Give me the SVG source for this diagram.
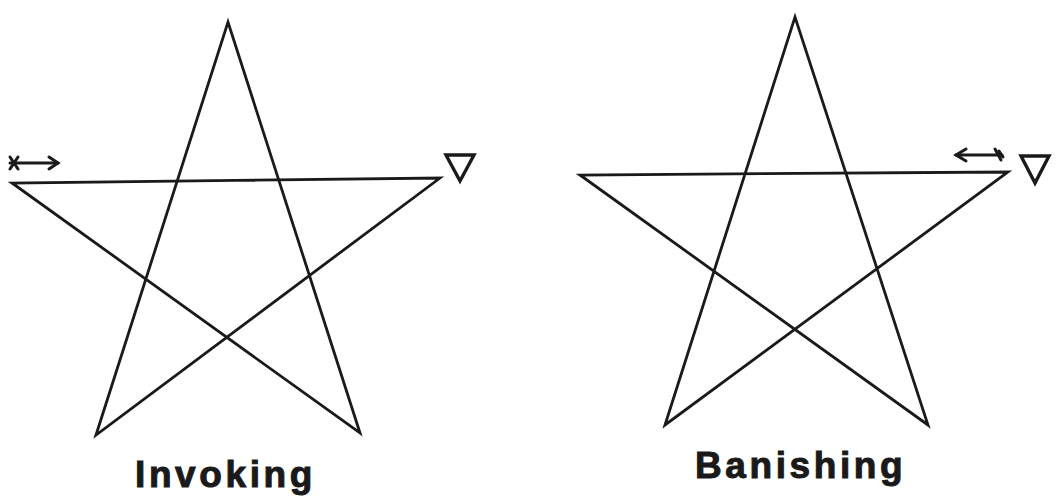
<svg xmlns="http://www.w3.org/2000/svg" width="1058" height="497" viewBox="0 0 1058 497">
<style>
.s{fill:none;stroke:#1a1a1a;stroke-width:2.8;stroke-linejoin:miter;stroke-linecap:round}
.tri{fill:none;stroke:#1a1a1a;stroke-width:3.4;stroke-linejoin:miter}
.m{fill:none;stroke:#1a1a1a;stroke-width:3;stroke-linecap:round}
.t{font-family:"Liberation Sans",Arial,sans-serif;font-weight:bold;font-size:37px;fill:#1a1a1a;stroke:#1a1a1a;stroke-width:1;letter-spacing:3.6px}
</style>
<rect width="1058" height="497" fill="#ffffff"/>
<g id="invoking">
<path class="s" d="M96,435 L228,22 L360,433 L12,183 L440,178 Z"/>
<g id="invoking-arrow">
<line class="m" x1="10" y1="163" x2="58" y2="163"/>
<path class="m" d="M49,157 L58,163 L49,169"/>
<path class="m" d="M10,157 L18,169 M18,157 L10,169"/>
</g>
<path id="invoking-tri" class="tri" d="M446,155 L474,155 L460,181 Z"/>
<text class="t" x="135" y="487">Invoking</text>
</g>
<g id="banishing">
<path class="s" d="M665,425 L795,17 L928,425 L580,175 L1008,172 Z"/>
<g id="banishing-arrow">
<line class="m" x1="956" y1="155" x2="1002" y2="155"/>
<path class="m" d="M966,149 L956,155 L966,161"/>
<path class="m" d="M995,149 L1001,160 M999,151 L1003,157"/>
</g>
<path id="banishing-tri" class="tri" d="M1021,156 L1049,156 L1035,183 Z"/>
<text class="t" x="695" y="478">Banishing</text>
</g>
</svg>
